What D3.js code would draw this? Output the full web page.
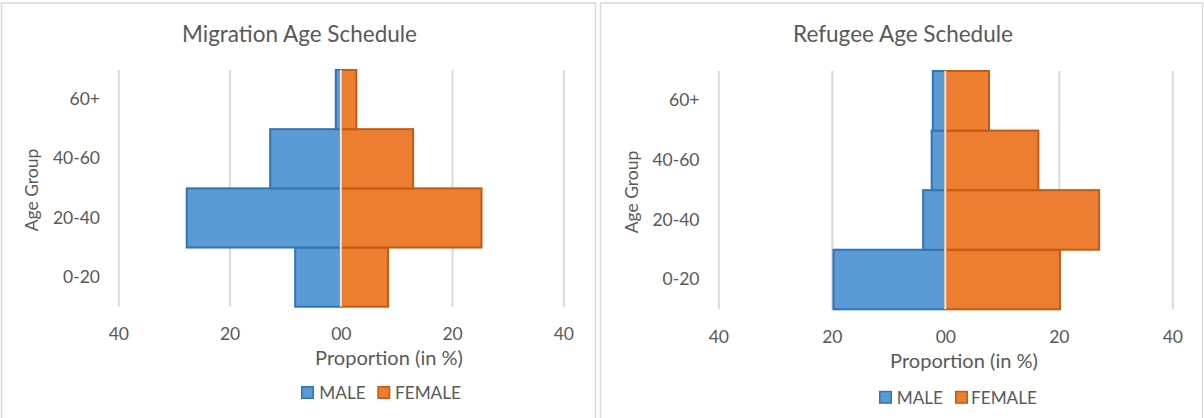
<!DOCTYPE html>
<html>
<head>
<meta charset="utf-8">
<script src="https://cdn.jsdelivr.net/npm/d3@7"></script>
<style>
  html, body { margin: 0; padding: 0; background: #fff; }
  svg { display: block; }
  text { font-family: Lato, "Open Sans", sans-serif; fill: #595959; }
</style>
</head>
<body>
<svg id="chart" width="1204" height="418"></svg>
<script>
// ---- data ----
const ageGroups = ["0-20", "20-40", "40-60", "60+"];
const seriesNames = ["MALE", "FEMALE"];
const titles = ["Migration Age Schedule", "Refugee Age Schedule"];
const migrationMale   = [8.2, 27.7, 12.7, 0.9];
const migrationFemale = [8.5, 25.3, 13.0, 2.8];
const refugeeMale     = [19.7, 3.9, 2.4, 2.2];
const refugeeFemale   = [20.2, 27.1, 16.4, 7.7];
const xTickValues = [-40, -20, 0, 20, 40];
const xTickLabels = ["40", "20", "00", "20", "40"];
const xAxisTitle = "Proportion (in %)";
const yAxisTitle = "Age Group";

// ---- styles ----
const colors = {
  male: "#5b9bd5", maleStroke: "#2e75b6",
  female: "#ed7d31", femaleStroke: "#c55a11",
  grid: "#d9d9d9", border: "#d9d9d9"
};

const svg = d3.select("#chart");

function fitWidth(sel, target) {
  const node = sel.node();
  const fs = parseFloat(sel.attr("font-size"));
  const w = node.getComputedTextLength();
  if (w > 0) sel.attr("font-size", (fs * target / w).toFixed(2));
  return sel;
}

function drawChart(cfg) {
  const g = svg.append("g");
  // border
  g.append("rect")
    .attr("x", cfg.box[0]).attr("y", cfg.box[1])
    .attr("width", cfg.box[2]).attr("height", cfg.box[3])
    .attr("fill", "#fff").attr("stroke", colors.border).attr("stroke-width", 1.5);

  const x = d3.scaleLinear().domain([-40, 40]).range([cfg.x0, cfg.x1]);
  const y = d3.scaleBand().domain(ageGroups.slice().reverse()).range([cfg.top, cfg.bottom]).padding(0);

  // gridlines
  const grid = g.append("g").attr("transform", `translate(0,${cfg.bottom})`)
    .call(d3.axisBottom(x).tickValues(xTickValues).tickSize(-(cfg.bottom - cfg.top)).tickFormat(""));
  grid.select(".domain").remove();
  grid.selectAll("line").attr("stroke", colors.grid).attr("stroke-width", 2);

  // bars
  const rows = ageGroups.map((a, i) => ({ age: a, male: cfg.male[i], female: cfg.female[i] }));
  g.selectAll(".male").data(rows).join("rect")
    .attr("x", d => x(-d.male)).attr("y", d => y(d.age))
    .attr("width", d => x(0) - x(-d.male)).attr("height", y.bandwidth())
    .attr("fill", colors.male).attr("stroke", colors.maleStroke).attr("stroke-width", 2);
  g.selectAll(".female").data(rows).join("rect")
    .attr("x", x(0)).attr("y", d => y(d.age))
    .attr("width", d => x(d.female) - x(0)).attr("height", y.bandwidth())
    .attr("fill", colors.female).attr("stroke", colors.femaleStroke).attr("stroke-width", 2);
  // zero line
  g.append("line").attr("x1", x(0)).attr("x2", x(0)).attr("y1", cfg.top).attr("y2", cfg.bottom)
    .attr("stroke", "#ececec").attr("stroke-width", 2);

  // x axis labels
  const xa = g.append("g").attr("transform", `translate(0,${cfg.xTickY})`)
    .call(d3.axisBottom(x).tickValues(xTickValues).tickSize(0).tickPadding(0)
      .tickFormat((d, i) => xTickLabels[i]));
  xa.select(".domain").remove();
  xa.selectAll("text").attr("font-size", 17.5).attr("fill", "#595959")
    .attr("font-family", "Lato, sans-serif").attr("dy", 0);

  // y axis labels
  const ya = g.append("g").attr("transform", `translate(${cfg.yLabelX},0)`)
    .call(d3.axisLeft(y).tickSize(0).tickPadding(0));
  ya.select(".domain").remove();
  ya.selectAll("text").attr("font-size", 17.5).attr("fill", "#595959")
    .attr("font-family", "Lato, sans-serif");

  // title
  const t = g.append("text").attr("x", cfg.titleX).attr("y", cfg.titleY)
    .attr("text-anchor", "middle").attr("font-size", 22).text(cfg.title);
  fitWidth(t, cfg.titleW);

  // axis titles
  const xt = g.append("text").attr("x", cfg.xTitleX).attr("y", cfg.xTitleY)
    .attr("text-anchor", "middle").attr("font-size", 17.5).text(xAxisTitle);
  fitWidth(xt, 148);
  g.append("text").attr("transform", `translate(${cfg.yTitleX},${cfg.yTitleY}) rotate(-90)`)
    .attr("text-anchor", "middle").attr("font-size", 17.5).text(yAxisTitle);

  // legend
  const lg = g.append("g");
  const legendItems = [
    { name: seriesNames[0], fill: colors.male, stroke: colors.maleStroke, sx: cfg.legend[0], tx: cfg.legend[1] },
    { name: seriesNames[1], fill: colors.female, stroke: colors.femaleStroke, sx: cfg.legend[2], tx: cfg.legend[3] }
  ];
  const texts = [];
  legendItems.forEach(it => {
    lg.append("rect").attr("x", it.sx + 0.75).attr("y", cfg.legendY - 5.75)
      .attr("width", 11.5).attr("height", 11.5)
      .attr("fill", it.fill).attr("stroke", it.stroke).attr("stroke-width", 1.5);
    texts.push(lg.append("text").attr("x", it.tx).attr("y", cfg.legendY + 6.5)
      .attr("font-size", 18).text(it.name));
  });
  fitWidth(texts[1], 66);
  texts[0].attr("font-size", texts[1].attr("font-size"));
}

drawChart({
  title: titles[0], male: migrationMale, female: migrationFemale,
  box: [1.5, 3, 594, 420],
  x0: 118.3, x1: 563.3, top: 70, bottom: 306.7,
  xTickY: 340, yLabelX: 100, titleX: 299.5, titleY: 41.7, titleW: 235,
  xTitleX: 389, xTitleY: 365, yTitleX: 38, yTitleY: 190,
  legend: [301, 319.3, 377.3, 395], legendY: 392.5
});
drawChart({
  title: titles[1], male: refugeeMale, female: refugeeFemale,
  box: [600.5, 3, 602, 420],
  x0: 718.3, x1: 1172.3, top: 71, bottom: 309.3,
  xTickY: 343, yLabelX: 699.5, titleX: 903, titleY: 42, titleW: 220,
  xTitleX: 964, xTitleY: 368, yTitleX: 638, yTitleY: 192,
  legend: [879, 896.7, 955, 971], legendY: 397.3
});
</script>
</body>
</html>
